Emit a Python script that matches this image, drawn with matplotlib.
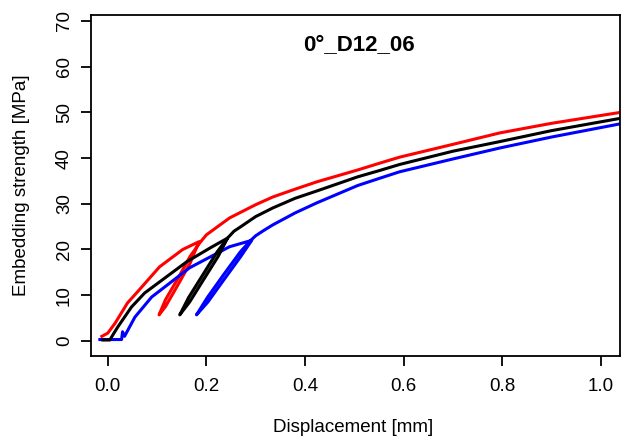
import matplotlib
matplotlib.use("Agg")
import matplotlib.pyplot as plt

plt.rcParams['font.family'] = ['Liberation Sans', 'DejaVu Sans']

# displacement [mm] / embedding strength [MPa]
# each test: loading, unloading, reloading and further loading
red_x = [-0.012, 0.0, 0.015, 0.04, 0.06, 0.105, 0.152, 0.185,
         0.167, 0.141, 0.117, 0.104,
         0.117, 0.144, 0.167, 0.187, 0.20, 0.247, 0.30, 0.335, 0.38,
         0.424, 0.507, 0.552, 0.592, 0.70, 0.795, 0.90, 1.04]
red_y = [1.0, 1.7, 3.9, 8.3, 10.7, 16.2, 20.0, 21.7,
         17.0, 12.0, 7.5, 5.7,
         9.0, 14.0, 18.5, 21.5, 23.2, 26.9, 29.8, 31.5, 33.2,
         34.8, 37.4, 38.9, 40.2, 43.0, 45.5, 47.6, 50.0]

black_x = [-0.01, 0.004, 0.02, 0.048, 0.075, 0.1, 0.16, 0.207, 0.243,
           0.224, 0.192, 0.166, 0.146,
           0.164, 0.193, 0.222, 0.243, 0.256, 0.27, 0.30, 0.335, 0.38,
           0.424, 0.507, 0.552, 0.592, 0.70, 0.795, 0.90, 1.04]
black_y = [0.2, 0.2, 3.0, 7.4, 10.5, 12.5, 17.3, 20.3, 22.5,
           18.5, 13.0, 8.5, 5.7,
           9.5, 14.5, 19.5, 22.5, 24.0, 25.0, 27.2, 29.1, 31.2,
           32.8, 35.9, 37.3, 38.6, 41.5, 43.6, 46.0, 48.7]

blue_x = [-0.016, 0.028, 0.03, 0.034, 0.055, 0.089, 0.13, 0.166, 0.21, 0.247, 0.292,
          0.270, 0.233, 0.203, 0.180,
          0.202, 0.235, 0.269, 0.290, 0.30, 0.314, 0.335, 0.38,
          0.424, 0.507, 0.552, 0.592, 0.70, 0.795, 0.90, 1.04]
blue_y = [0.3, 0.3, 2.0, 1.0, 5.2, 9.6, 13.0, 16.0, 18.5, 20.6, 22.0,
          18.5, 13.0, 8.5, 5.7,
          9.5, 14.5, 19.5, 22.0, 23.0, 24.0, 25.4, 28.0,
          30.2, 34.0, 35.6, 37.0, 39.8, 42.2, 44.6, 47.5]

x_ticks = [0.0, 0.2, 0.4, 0.6, 0.8, 1.0]
y_ticks = [0, 10, 20, 30, 40, 50, 60, 70]

fig = plt.figure(figsize=(6.34, 4.43), dpi=100)
ax = fig.add_axes([91/634, 1 - 356/443, 529/634, 341/443])

ax.plot(red_x, red_y, color='#ff0000', lw=2.2)
ax.plot(blue_x, blue_y, color='#0000ff', lw=2.2)
ax.plot(black_x, black_y, color='black', lw=2.2)

ax.set_xlim(-0.034, 1.039)
ax.set_ylim(-3.3, 71.3)
ax.set_xticks(x_ticks)
ax.set_xticklabels([f"{t:.1f}" for t in x_ticks])
ax.set_yticks(y_ticks)
ax.set_yticklabels([str(t) for t in y_ticks], rotation=90, va='center')

for s in ax.spines.values():
    s.set_linewidth(1.3)
ax.tick_params(axis='both', length=7, width=1.3, labelsize=13.5, colors='black')
ax.tick_params(axis='x', pad=9)
ax.tick_params(axis='y', pad=6)

ax.set_xlabel("Displacement [mm]", fontsize=13.5)
ax.xaxis.label.set_va('center')
ax.xaxis.set_label_coords((353 - 91) / 529, (356 - 427) / 341)
ax.set_ylabel("Embedding strength [MPa]", fontsize=13.5)
ax.yaxis.label.set_va('center')
ax.yaxis.set_label_coords((22 - 91) / 529, (356 - 185) / 341)

ax.text((359 - 91) / 529, (356 - 46) / 341, "0°_D12_06", transform=ax.transAxes,
        ha='center', va='center', fontsize=16, fontweight='bold')

fig.savefig("out.png", dpi=100)
